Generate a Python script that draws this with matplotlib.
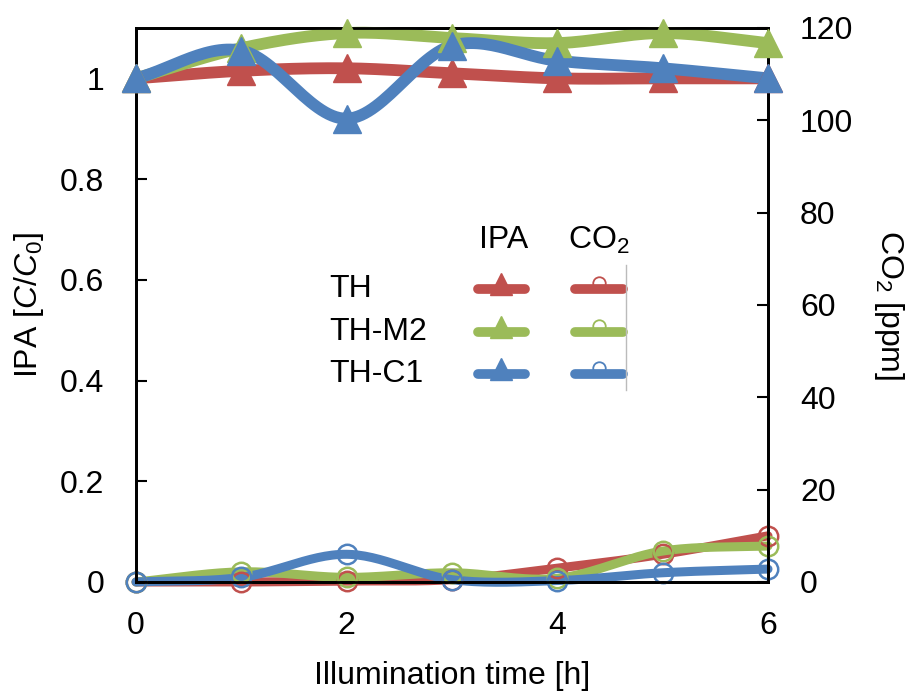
import matplotlib.pyplot as plt
import numpy as np
from matplotlib.lines import Line2D

plt.rcParams['font.family'] = ['Liberation Sans', 'DejaVu Sans']
plt.rcParams['mathtext.fontset'] = 'custom'
plt.rcParams['mathtext.rm'] = 'Liberation Sans'
plt.rcParams['mathtext.it'] = 'Liberation Sans:italic'

# data
time_h = [0, 1, 2, 3, 4, 5, 6]
series = ['TH', 'TH-M2', 'TH-C1']
colors = ['#C0504D', '#9BBB59', '#4F81BD']
ipa_th = [1.00, 1.015, 1.02, 1.01, 1.00, 1.00, 1.00]
ipa_m2 = [1.00, 1.06, 1.09, 1.08, 1.07, 1.09, 1.07]
ipa_c1 = [1.00, 1.055, 0.92, 1.065, 1.035, 1.02, 1.00]
co2_th = [0.0, 0.0, 0.2, 0.5, 3.0, 6.0, 10.0]
co2_m2 = [0.0, 2.2, 1.0, 2.0, 0.8, 6.7, 7.8]
co2_c1 = [0.0, 1.0, 6.0, 0.5, 0.3, 2.0, 2.8]

FS = 23


def smooth(x, y, n=30):
    # Catmull-Rom like Excel smoothed lines
    x = np.asarray(x, float)
    y = np.asarray(y, float)
    px = np.concatenate([[2 * x[0] - x[1]], x, [2 * x[-1] - x[-2]]])
    py = np.concatenate([[2 * y[0] - y[1]], y, [2 * y[-1] - y[-2]]])
    xs, ys = [], []
    t = np.linspace(0, 1, n)
    for i in range(1, len(px) - 2):
        for p, out in ((px, xs), (py, ys)):
            p0, p1, p2, p3 = p[i - 1], p[i], p[i + 1], p[i + 2]
            out.extend(0.5 * (2 * p1 + (-p0 + p2) * t + (2 * p0 - 5 * p1 + 4 * p2 - p3) * t ** 2
                              + (-p0 + 3 * p1 - 3 * p2 + p3) * t ** 3))
    return xs, ys


fig = plt.figure(figsize=(9.21, 6.98), dpi=100)
ax = fig.add_axes([0.1477, 0.1662, 0.6862, 0.7937])
ax2 = ax.twinx()

for ipa, c in zip([ipa_th, ipa_m2, ipa_c1], colors):
    sx, sy = smooth(time_h, ipa)
    ax.plot(sx, sy, color=c, lw=8.5, solid_capstyle='round', zorder=2, clip_on=False)
    ax.plot(time_h, ipa, ls='none', marker='^', ms=20, color=c, zorder=3, clip_on=False)

for co2, c in zip([co2_th, co2_m2, co2_c1], colors):
    sx, sy = smooth(time_h, co2)
    ax2.plot(sx, sy, color=c, lw=6.5, solid_capstyle='round', zorder=2, clip_on=False)
    ax2.plot(time_h, co2, ls='none', marker='o', ms=14, mfc='none', mec=c, mew=1.8,
             zorder=3, clip_on=False)

ax.set_xlim(0, 6)
ax.set_ylim(0, 1.1)
ax2.set_ylim(0, 120)
ax.set_xticks([0, 2, 4, 6])
ax.set_yticks([0, 0.2, 0.4, 0.6, 0.8, 1.0])
ax.set_yticklabels(['0', '0.2', '0.4', '0.6', '0.8', '1'])
ax2.set_yticks([0, 20, 40, 60, 80, 100, 120])
ax.tick_params(axis='y', direction='in', length=8, width=1.5, labelsize=FS, pad=23)
ax.tick_params(axis='x', direction='in', length=0, labelsize=FS, pad=21)
ax2.tick_params(axis='y', direction='in', length=8, width=1.5, labelsize=FS, pad=23)
for a in (ax, ax2):
    for s in a.spines.values():
        s.set_linewidth(2)
ax.patch.set_visible(False)
ax.set_zorder(ax2.get_zorder() + 1)

ax.set_xlabel('Illumination time [h]', fontsize=FS, labelpad=14)
ax.set_ylabel(r'IPA [$\mathit{C}$/$\mathit{C}_0$]', fontsize=FS, labelpad=10)
ax2.set_ylabel(r'CO$_2$ [ppm]', fontsize=FS, rotation=270, labelpad=38)

# table-style legend
tr = ax.transAxes
ax.text(0.581, 0.617, 'IPA', transform=tr, fontsize=FS, ha='center', va='center')
ax.text(0.733, 0.617, r'CO$_2$', transform=tr, fontsize=FS, ha='center', va='center')
row_y = [0.529, 0.452, 0.376]
for name, c, yy in zip(series, colors, row_y):
    ax.text(0.305, yy, name, transform=tr, fontsize=FS, ha='left', va='center')
    ax.add_line(Line2D([0.541, 0.616], [yy, yy], transform=tr, color=c, lw=7,
                       solid_capstyle='round', zorder=4))
    ax.add_line(Line2D([0.578], [yy + 0.008], transform=tr, marker='^', ms=16, color=c, zorder=5))
    ax.add_line(Line2D([0.695, 0.770], [yy, yy], transform=tr, color=c, lw=7,
                       solid_capstyle='round', zorder=4))
    ax.add_line(Line2D([0.733], [yy + 0.010], transform=tr, marker='o', ms=9, mfc='none',
                       mec=c, mew=1.3, zorder=5))
ax.add_line(Line2D([0.775, 0.775], [0.347, 0.572], transform=tr, color='#BBBBBB', lw=1, zorder=4))

fig.savefig('out.png', dpi=100)
